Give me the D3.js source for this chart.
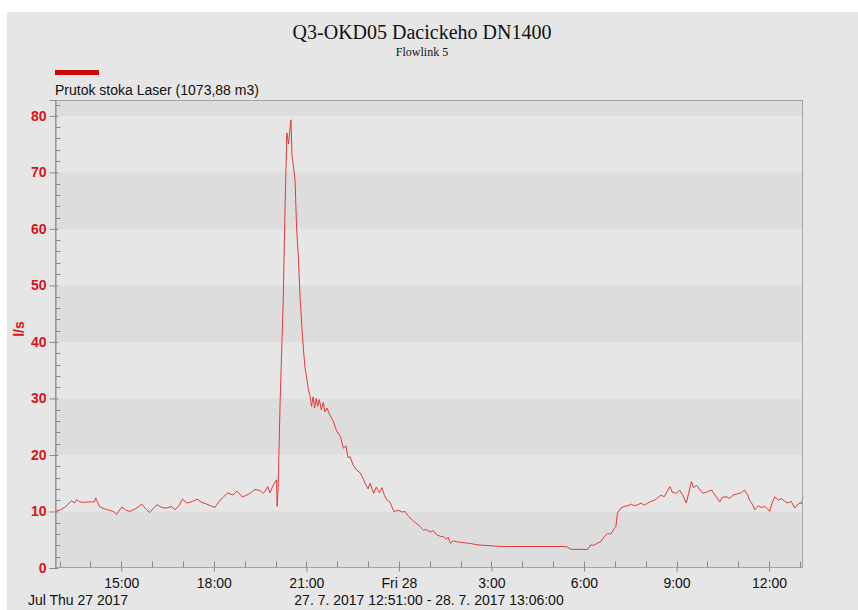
<!DOCTYPE html>
<html>
<head>
<meta charset="utf-8">
<script src="https://cdn.jsdelivr.net/npm/d3@7"></script>
<style>
  html, body { margin: 0; padding: 0; background: #ffffff; }
  svg { display: block; }
</style>
</head>
<body>
<svg id="chart" width="858" height="610"></svg>
<script>
// ---------- data ----------
const titleText = "Q3-OKD05 Dacickeho DN1400";
const subtitleText = "Flowlink 5";
const seriesName = "Prutok stoka Laser (1073,88 m3)";
const yAxisLabel = "l/s";
const startTime = "2017-07-27T12:51";
const endTime = "2017-07-28T13:06";
const dateLabel = "Jul Thu 27 2017";
const rangeLabel = "27. 7. 2017 12:51:00 - 28. 7. 2017 13:06:00";
const yTicks = [0, 10, 20, 30, 40, 50, 60, 70, 80];

const times = [
  "12:51","13:02","13:11","13:23","13:29","13:33","13:39","13:48","13:58","14:08",
  "14:10","14:18","14:27","14:37","14:45","14:51","15:01","15:08","15:16","15:28",
  "15:40","15:47","15:55","16:03","16:09","16:19","16:28","16:38","16:44","16:52",
  "16:59","17:07","17:13","17:21","17:27","17:37","17:46","17:54","18:02","18:12",
  "18:19","18:27","18:37","18:45","18:55","19:02","19:10","19:20","19:30","19:36",
  "19:41","19:45","19:49","19:57","20:02","20:03","20:05","20:09","20:15","20:18",
  "20:22","20:25","20:30","20:32","20:35","20:38","20:41","20:44","20:48","20:51",
  "20:54","20:57","21:00","21:04","21:07","21:10","21:13","21:16","21:19","21:22",
  "21:25","21:29","21:33","21:36","21:40","21:46","21:52","21:59","22:06","22:12",
  "22:17","22:21","22:25","22:31","22:38","22:45","22:51","22:54","23:00","23:04",
  "23:11","23:16","23:22","23:27","23:32","23:37","23:43","23:50","23:59","00:07",
  "00:12","00:18","00:26","00:32","00:38","00:48","00:53","01:01","01:07","01:13",
  "01:21","01:27","01:32","01:36","01:40","01:46","01:54","02:04","02:13","02:21",
  "02:32","02:48","03:05","03:18","03:57","04:36","05:21","05:28","05:34","06:07",
  "06:13","06:19","06:26","06:33","06:39","06:46","06:52","06:59","07:02","07:05",
  "07:12","07:18","07:25","07:32","07:38","07:45","07:51","07:57","08:04","08:11",
  "08:17","08:23","08:30","08:36","08:42","08:47","08:52","09:00","09:06","09:12",
  "09:19","09:23","09:29","09:33","09:39","09:44","09:51","09:58","10:08","10:15",
  "10:24","10:29","10:37","10:43","10:50","10:58","11:06","11:12","11:18","11:22",
  "11:28","11:32","11:39","11:45","11:51","11:57","12:01","12:06","12:11","12:18",
  "12:24","12:30","12:37","12:43","12:50","12:55","13:00","13:03","13:06"
];
const flow = [
  10.0,10.3,10.8,11.9,11.5,12.1,11.7,11.6,11.7,11.7,
  12.4,10.8,10.5,10.2,10.0,9.5,10.8,10.3,10.0,10.5,
  11.3,10.5,9.8,10.6,11.2,10.7,10.6,10.9,10.3,11.0,
  12.2,11.5,11.6,11.9,12.2,11.6,11.3,11.0,10.7,12.0,
  12.6,13.3,12.9,13.6,12.6,12.8,13.2,13.9,13.7,13.2,
  13.8,14.4,13.3,14.9,15.6,10.9,14.0,29.7,47.4,62.0,
  77.0,75.0,79.3,73.0,71.0,68.5,60.0,55.7,47.4,43.0,
  39.1,35.6,34.0,31.5,30.5,28.6,30.3,28.3,30.0,28.6,
  29.8,28.0,29.3,27.6,28.3,27.0,26.0,24.2,23.3,21.2,
  21.6,19.5,19.7,18.2,17.3,16.8,15.7,15.0,14.0,15.0,
  13.2,14.3,13.3,14.2,12.8,12.0,11.6,10.0,10.2,9.9,
  10.0,9.2,8.5,8.0,7.6,6.7,6.8,6.4,6.6,5.9,
  5.6,5.5,5.1,5.4,4.4,4.8,4.6,4.5,4.4,4.3,
  4.1,4.0,3.9,3.8,3.8,3.8,3.8,3.7,3.3,3.3,
  4.1,4.0,4.4,4.7,5.5,6.1,6.0,7.0,7.3,9.7,
  10.6,10.9,11.0,11.3,11.0,11.2,11.5,11.1,11.5,11.8,
  12.0,12.4,12.9,12.6,13.6,14.4,13.4,13.2,13.8,12.9,
  11.5,13.0,15.3,14.2,14.6,14.0,13.2,13.4,13.8,12.9,
  11.7,12.5,12.6,12.3,12.9,13.1,13.3,13.8,13.0,12.0,
  11.2,10.3,11.0,10.7,10.9,10.5,10.0,11.5,12.6,12.0,
  12.3,11.8,11.5,11.8,10.6,11.2,11.5,11.4,12.6
];

// ---------- parse times (day rolls over after midnight) ----------
const parseFull = d3.timeParse("%Y-%m-%dT%H:%M");
const t0 = parseFull(startTime), t1 = parseFull(endTime);
let day = new Date(2017, 6, 27), prevH = -1;
const points = times.map((s, i) => {
  const [h, m] = s.split(":").map(Number);
  if (prevH >= 0 && h < prevH) day = d3.timeDay.offset(day, 1);
  prevH = h;
  const d = new Date(day.getFullYear(), day.getMonth(), day.getDate(), h, m);
  return { t: d, v: flow[i] };
});

// ---------- layout ----------
const svg = d3.select("#chart");
const W = 858, H = 610;
const m = { left: 55, right: 55, top: 100, bottom: 42 };
const pw = W - m.left - m.right, ph = H - m.top - m.bottom;
const red = "#d8141a";
const font = "'Liberation Sans', Arial, sans-serif";
const serif = "'Liberation Serif', 'Times New Roman', serif";

svg.append("rect").attr("x", 7).attr("y", 12).attr("width", W - 7).attr("height", H - 12).attr("fill", "#e6e6e6");

const x = d3.scaleTime().domain([t0, t1]).range([m.left, m.left + pw]);
const y = d3.scaleLinear().domain([0, 82.8]).range([m.top + ph, m.top]);

// bands
const bandEdges = [0, 10, 20, 30, 40, 50, 60, 70, 80, 82.8];
const g = svg.append("g");
for (let i = 0; i < bandEdges.length - 1; i++) {
  g.append("rect")
    .attr("x", m.left).attr("width", pw)
    .attr("y", y(bandEdges[i + 1])).attr("height", y(bandEdges[i]) - y(bandEdges[i + 1]))
    .attr("fill", i % 2 === 0 ? "#dddddd" : "#e6e6e6");
}

// line
const line = d3.line().x(d => x(d.t)).y(d => y(d.v));
g.append("path").datum(points)
  .attr("d", line).attr("fill", "none")
  .attr("stroke", "#e23a3a").attr("stroke-width", 1).attr("stroke-linejoin", "round");

// frame
g.append("rect").attr("x", m.left + 0.5).attr("y", m.top + 0.5)
  .attr("width", pw - 1).attr("height", ph - 1)
  .attr("fill", "none").attr("stroke", "#a4a4a4").attr("stroke-width", 1);

// y axis
const yMinor = d3.range(0, 83, 2).filter(v => v % 10 !== 0);
const yAx = svg.append("g").attr("transform", `translate(${m.left + 0.5},0)`);
yAx.selectAll("line.minor").data(yMinor).join("line")
  .attr("x1", 0).attr("x2", 5).attr("y1", d => Math.round(y(d)) + 0.5).attr("y2", d => Math.round(y(d)) + 0.5)
  .attr("stroke", "#8a8a8a");
const yAxis = d3.axisLeft(y).tickValues(yTicks).tickSize(6).tickPadding(3).tickFormat(d3.format("d"));
yAx.call(yAxis);
yAx.select(".domain").attr("stroke", "#8a8a8a");
yAx.selectAll(".tick line").attr("stroke", "#8a8a8a").attr("x2", -6).attr("x1", 3);
yAx.selectAll(".tick text").attr("fill", red).attr("font-family", font).attr("font-size", 14).attr("font-weight", "bold");

svg.append("text").attr("transform", `translate(24,329) rotate(-90)`)
  .attr("text-anchor", "middle").attr("fill", red).attr("font-family", font)
  .attr("font-size", 14).attr("font-weight", "bold").text(yAxisLabel);

// x axis
const xAx = svg.append("g").attr("transform", `translate(0,${m.top + ph - 0.5})`);
const hours = d3.timeHour.every(1).range(t0, t1);
xAx.selectAll("line.minor").data(hours).join("line")
  .attr("x1", d => Math.round(x(d)) + 0.5).attr("x2", d => Math.round(x(d)) + 0.5)
  .attr("y1", 0).attr("y2", -6).attr("stroke", "#8a8a8a");
const fmt = d => d.getHours() === 0 ? d3.timeFormat("%a %-d")(d) : d3.timeFormat("%-H:%M")(d);
const xAxis = d3.axisBottom(x).ticks(d3.timeHour.every(3)).tickSize(4).tickPadding(7).tickFormat(fmt);
xAx.call(xAxis);
xAx.select(".domain").remove();
xAx.selectAll(".tick line").attr("stroke", "#8a8a8a");
xAx.selectAll(".tick text").attr("fill", "#111").attr("font-family", font).attr("font-size", 14);

svg.append("text").attr("x", 28).attr("y", 605).attr("font-family", font).attr("font-size", 14)
  .attr("fill", "#111").text(dateLabel);
svg.append("text").attr("x", m.left + pw / 2).attr("y", 605).attr("text-anchor", "middle")
  .attr("font-family", font).attr("font-size", 14).attr("fill", "#111").text(rangeLabel);

// title
svg.append("text").attr("x", 422).attr("y", 39).attr("text-anchor", "middle")
  .attr("font-family", serif).attr("font-size", 20).attr("fill", "#111").text(titleText);
svg.append("text").attr("x", 422).attr("y", 56).attr("text-anchor", "middle")
  .attr("font-family", serif).attr("font-size", 12).attr("fill", "#111").text(subtitleText);

// legend
svg.append("rect").attr("x", 55).attr("y", 70).attr("width", 44).attr("height", 5).attr("fill", "#cc0a0a");
svg.append("text").attr("x", 55).attr("y", 95).attr("font-family", font).attr("font-size", 14)
  .attr("fill", "#111").text(seriesName);
</script>
</body>
</html>
